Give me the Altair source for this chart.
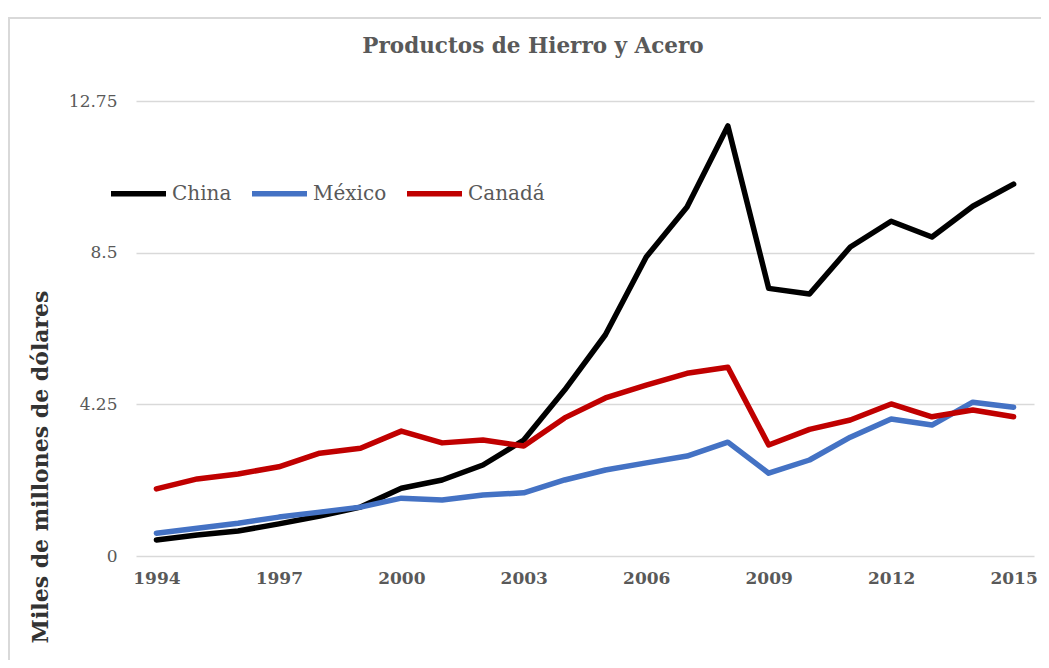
import altair as alt
import pandas as pd

years = list(range(1994, 2016))
china = [0.45, 0.59, 0.70, 0.90, 1.12, 1.37, 1.90, 2.13, 2.55, 3.25, 4.65, 6.20,
         8.38, 9.78, 12.05, 7.50, 7.34, 8.66, 9.38, 8.94, 9.80, 10.42]
mexico = [0.64, 0.78, 0.92, 1.09, 1.23, 1.37, 1.62, 1.57, 1.71, 1.77, 2.13, 2.41,
          2.61, 2.80, 3.19, 2.32, 2.69, 3.33, 3.84, 3.67, 4.31, 4.17]
canada = [1.88, 2.16, 2.30, 2.50, 2.88, 3.02, 3.50, 3.17, 3.25, 3.08, 3.87, 4.43,
          4.79, 5.12, 5.29, 3.11, 3.55, 3.81, 4.26, 3.90, 4.09, 3.90]
series_names = ["China", "México", "Canadá"]
series_colors = ["#000000", "#4472C4", "#C00000"]
y_ticks = [0, 4.25, 8.5, 12.75]
x_ticks = [1994, 1997, 2000, 2003, 2006, 2009, 2012, 2015]
title_text = "Productos de Hierro y Acero"

rows = []
for name, vals in zip(series_names, [china, mexico, canada]):
    for yr, v in zip(years, vals):
        rows.append({"Año": yr, "Valor": v, "Serie": name})
df = pd.DataFrame(rows)

W, H = 898, 455
FONT = "DejaVu Serif"
GRAY = "#595959"

lines = alt.Chart(df).mark_line(strokeWidth=5.5, strokeCap="round", strokeJoin="round").encode(
    x=alt.X("Año:Q", scale=alt.Scale(domain=[1993.5, 2015.5], nice=False, zero=False),
            axis=alt.Axis(values=x_ticks, format="d", title=None, grid=False, domain=False,
                          ticks=False, labelFont=FONT, labelFontSize=17, labelFontWeight="bold",
                          labelColor=GRAY, labelPadding=14)),
    y=alt.Y("Valor:Q", scale=alt.Scale(domain=[0, 12.75], nice=False),
            axis=alt.Axis(values=y_ticks, format=".4~g", title="Miles de millones de dólares",
                          grid=True, gridColor="#d9d9d9", gridWidth=1.5, domain=False, ticks=False,
                          labelFont=FONT, labelFontSize=17, labelColor=GRAY, labelPadding=19,
                          titleFont=FONT, titleFontSize=22, titleFontWeight="bold",
                          titleColor="#333333", titleAngle=270, titleAlign="right",
                          titleBaseline="alphabetic", titleX=-89, titleY=189)),
    color=alt.Color("Serie:N", sort=series_names,
                    scale=alt.Scale(domain=series_names, range=series_colors),
                    legend=alt.Legend(title=None, orient="none", direction="horizontal",
                                      legendX=-28, legendY=62, symbolType="stroke",
                                      symbolSize=3025, symbolStrokeWidth=5.5,
                                      labelFont=FONT, labelFontSize=20, labelColor=GRAY,
                                      labelOffset=3, columnPadding=9, padding=0)),
    order=alt.Order("Año:Q"),
)

border = alt.Chart(pd.DataFrame({"a": [0]})).mark_rect(
    fillOpacity=0, stroke="#d9d9d9", strokeWidth=2
).encode(x=alt.value(-127), x2=alt.value(1100), y=alt.value(-83), y2=alt.value(800))

title = alt.Chart(pd.DataFrame({"t": [title_text]})).mark_text(
    font=FONT, fontSize=21.5, fontWeight="bold", color=GRAY, align="center", baseline="alphabetic"
).encode(text="t:N", x=alt.value(397), y=alt.value(-48))

chart = alt.layer(border, lines, title).properties(
    width=W, height=H,
    autosize=alt.AutoSizeParams(type="none"),
    padding={"left": 128, "top": 93, "right": 7, "bottom": 104},
).configure_view(stroke=None)

chart.save("out.html", embed_options={"renderer": "svg", "actions": False})
